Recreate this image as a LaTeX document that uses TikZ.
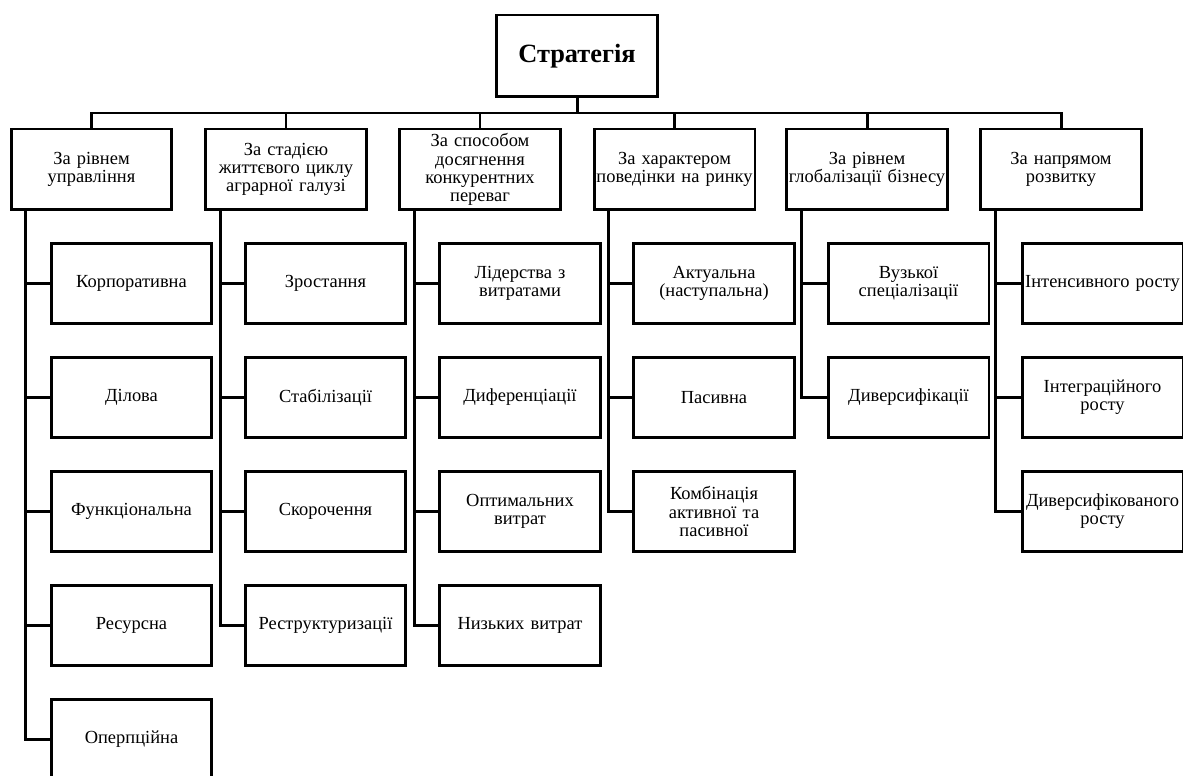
\documentclass[tikz,border=0pt]{standalone}
\usepackage{fontspec}
\setmainfont{Liberation Serif}
\usepackage{tikz}
\usetikzlibrary{calc}

\tikzset{
  box/.style={draw, line width=1.7pt, inner sep=0pt, text width=3.22cm, align=center,
    minimum height=1.6cm, font=\fontsize{10.5}{10.3}\selectfont},
  catbox/.style={box, minimum height=1.62cm},
  topbox/.style={box, minimum height=1.64cm, font=\fontsize{15}{18}\selectfont\bfseries},
  link/.style={line width=1.7pt},
}

\begin{document}
\begin{tikzpicture}[x=0.02cm, y=-0.02cm]
  \useasboundingbox (0,0) rectangle (1183,776);

  % root
  \node[topbox] (strat) at (577,56) {Стратегія};
  \coordinate (bus) at (577,113);

  % classification criteria
  \node[catbox] (c1) at (91.5,169.5) {За рівнем\\управління};
  \node[catbox] (c2) at (286,169.5) {За стадією\\життєвого циклу\\аграрної галузі};
  \node[catbox] (c3) at (480,169.5) {За способом\\досягнення\\конкурентних\\переваг};
  \node[catbox] (c4) at (674.5,169.5) {За характером\\поведінки на ринку};
  \node[catbox] (c5) at (867,169.5) {За рівнем\\глобалізації бізнесу};
  \node[catbox] (c6) at (1061,169.5) {За напрямом\\розвитку};

  % level of management
  \node[box] (k11) at (131.5,283.5) {Корпоративна};
  \node[box] (k12) at (131.5,397.5) {Ділова};
  \node[box] (k13) at (131.5,511.5) {Функціональна};
  \node[box] (k14) at (131.5,625.5) {Ресурсна};
  \node[box] (k15) at (131.5,739.5) {Оперпційна};

  % life cycle stage
  \node[box] (k21) at (325.5,283.5) {Зростання};
  \node[box] (k22) at (325.5,397.5) {Стабілізації};
  \node[box] (k23) at (325.5,511.5) {Скорочення};
  \node[box] (k24) at (325.5,625.5) {Реструктуризації};

  % competitive advantage
  \node[box] (k31) at (520,283.5) {Лідерства з\\витратами};
  \node[box] (k32) at (520,397.5) {Диференціації};
  \node[box] (k33) at (520,511.5) {Оптимальних\\витрат};
  \node[box] (k34) at (520,625.5) {Низьких витрат};

  % market behaviour
  \node[box] (k41) at (714,283.5) {Актуальна\\(наступальна)};
  \node[box] (k42) at (714,397.5) {Пасивна};
  \node[box] (k43) at (714,511.5) {Комбінація\\активної та\\пасивної};

  % globalisation
  \node[box] (k51) at (908.5,283.5) {Вузької\\спеціалізації};
  \node[box] (k52) at (908.5,397.5) {Диверсифікації};

  % direction of development
  \node[box] (k61) at (1102.5,283.5) {Інтенсивного росту};
  \node[box] (k62) at (1102.5,397.5) {Інтеграційного\\росту};
  \node[box] (k63) at (1102.5,511.5) {Диверсифікованого\\росту};

  % connectors
  \draw[link] (strat.south) -- (bus);
  \foreach \i in {1,...,6}
    \draw[link] (bus) -| (c\i.north);
  \foreach \i/\n in {1/5,2/4,3/4,4/3,5/2,6/3}
    \foreach \j in {1,...,\n}
      \draw[link] ([xshift=0.32cm]c\i.south west) |- (k\i\j.west);
\end{tikzpicture}
\end{document}
